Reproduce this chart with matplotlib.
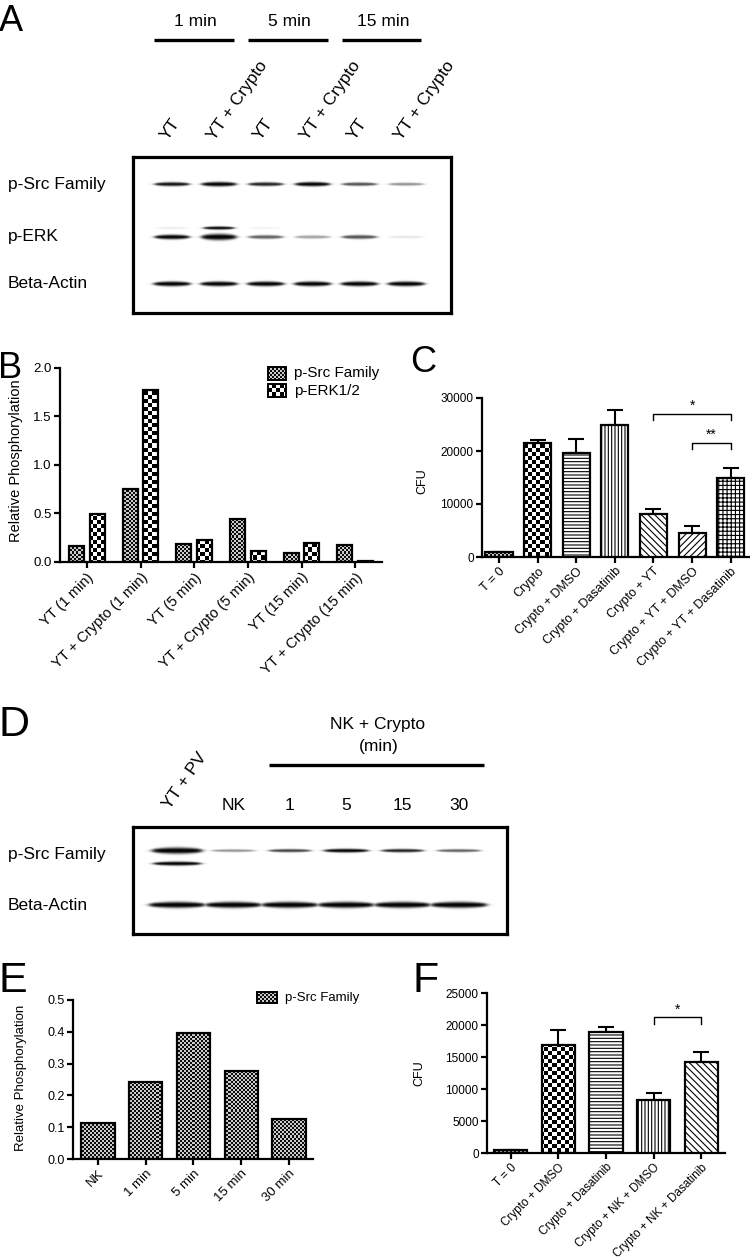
import numpy as np
import matplotlib
matplotlib.use("Agg")
import matplotlib.pyplot as plt
from matplotlib.patches import Rectangle
import matplotlib.transforms as mtrans

plt.rcParams['font.family'] = ['Liberation Sans', 'DejaVu Sans']
plt.rcParams['hatch.linewidth'] = 0.8

# ---------------- data ----------------
blotA_lanes = ["YT", "YT + Crypto", "YT", "YT + Crypto", "YT", "YT + Crypto"]
blotA_times = ["1 min", "5 min", "15 min"]
blotA_rows = ["p-Src Family", "p-ERK", "Beta-Actin"]
blotA_src = [0.75, 1.0, 0.7, 0.9, 0.55, 0.35]
blotA_erk = [0.8, 1.0, 0.5, 0.3, 0.55, 0.08]
blotA_erk_upper = [0.08, 0.85, 0.05, 0.0, 0.0, 0.0]
blotA_actin = [1.0, 1.0, 1.0, 1.0, 1.0, 1.0]

b_categories = ["YT (1 min)", "YT + Crypto (1 min)", "YT (5 min)",
                "YT + Crypto (5 min)", "YT (15 min)", "YT + Crypto (15 min)"]
b_series = ["p-Src Family", "p-ERK1/2"]
b_src = [0.165, 0.748, 0.183, 0.445, 0.09, 0.176]
b_erk = [0.493, 1.776, 0.231, 0.114, 0.197, 0.01]

c_categories = ["T = 0", "Crypto", "Crypto + DMSO", "Crypto + Dasatinib",
                "Crypto + YT", "Crypto + YT + DMSO", "Crypto + YT + Dasatinib"]
c_mean = [900, 21600, 19600, 24950, 8050, 4530, 14950]
c_sem = [100, 500, 2700, 2750, 1070, 1320, 1760]
c_sig = [(4, 6, "*", 27000), (5, 6, "**", 21500)]

blotD_lanes = ["YT + PV", "NK", "1", "5", "15", "30"]
blotD_header = ["NK + Crypto", "(min)"]
blotD_rows = ["p-Src Family", "Beta-Actin"]
blotD_src = [1.0, 0.35, 0.6, 0.85, 0.7, 0.5]
blotD_src_lower = [0.95, 0.0, 0.0, 0.0, 0.0, 0.0]
blotD_actin = [0.8, 0.8, 0.8, 0.8, 0.8, 0.8]

e_categories = ["NK", "1 min", "5 min", "15 min", "30 min"]
e_series = ["p-Src Family"]
e_src = [0.113, 0.242, 0.395, 0.277, 0.126]

f_categories = ["T = 0", "Crypto + DMSO", "Crypto + Dasatinib",
                "Crypto + NK + DMSO", "Crypto + NK + Dasatinib"]
f_mean = [400, 16900, 18950, 8260, 14230]
f_sem = [0, 2250, 780, 1150, 1570]
f_sig = [(3, 4, "*", 21200)]

# ---------------- styles ----------------
c_styles = ['stipple', 'checker', '-----', '|||||', '\\\\\\\\\\', '/////', '++++']
f_styles = ['stipple', 'checker', '-----', '|||||', '\\\\\\\\\\']

W, H = 750, 1258
DPI = 100
fig = plt.figure(figsize=(W / DPI, H / DPI), dpi=DPI)
PX = mtrans.Affine2D().scale(1 / W, -1 / H).translate(0, 1) + fig.transFigure


def add_ax(x0, y0, x1, y1):
    ax = fig.add_axes([x0 / W, 1 - y1 / H, (x1 - x0) / W, (y1 - y0) / H])
    ax._px = (x0, y0, x1, y1)
    return ax


def ftext(x, y, s, **kw):
    return fig.text(x / W, 1 - y / H, s, **kw)


def pattern(kind, h, w, x0, y0):
    yy, xx = np.mgrid[0:h, 0:w]
    yy = yy + y0
    xx = xx + x0
    if kind == 'stipple':
        c = ((xx // 2 + yy // 2) % 2)
        return np.where(c == 0, 0.05, 0.8)
    c = ((xx // 4 + yy // 4) % 2)
    return np.where(c == 0, 0.0, 1.0)


def texture(ax, patch, kind, pad=40):
    x0, y0, x1, y1 = ax._px
    xl = ax.get_xlim()
    yl = ax.get_ylim()
    w = x1 - x0
    h = y1 - y0
    sx = (xl[1] - xl[0]) / w
    sy = (yl[1] - yl[0]) / h
    nr, nc = h + 2 * pad, w + 2 * pad
    img = pattern(kind, nr, nc, x0 - pad, y0 - pad)
    left = xl[0] - pad * sx
    top = yl[1] + pad * sy
    ext = (left, left + nc * sx, top - nr * sy, top)
    im = ax.imshow(img, extent=ext, origin='upper', cmap='gray', vmin=0, vmax=1,
                   interpolation='nearest', aspect='auto', zorder=2)
    im.set_clip_path(patch)
    ax.set_xlim(xl)
    ax.set_ylim(yl)


def style(ax, fs):
    for s in ['top', 'right']:
        ax.spines[s].set_visible(False)
    for s in ['left', 'bottom']:
        ax.spines[s].set_linewidth(1.6)
    ax.tick_params(direction='out', length=4, width=1.6, labelsize=fs, pad=2)


def styled_bars(ax, x, vals, width, styles):
    bc = ax.bar(x, vals, width, color='white', edgecolor='black', linewidth=1.6, zorder=3)
    for p, st in zip(bc.patches, styles):
        if st in ('stipple', 'checker'):
            p.set_facecolor('none')
            texture(ax, p, st)
        else:
            p.set_hatch(st)
    return bc


def legend_box(ax, x0, y0, x1, y1, kind, label, fs):
    r = Rectangle((x0 / W, 1 - y1 / H), (x1 - x0) / W, (y1 - y0) / H,
                  transform=fig.transFigure, facecolor='none', edgecolor='black',
                  linewidth=1.4, zorder=4, clip_on=False)
    ax.add_artist(r)
    texture(ax, r, kind)
    ftext(x1 + 8, (y0 + y1) / 2, label, fontsize=fs, va='center', ha='left')


def blot(ax, rows, xlim, hpx, wpx):
    nc, nr = wpx * 2, hpx * 2
    xs = np.linspace(xlim[0], xlim[1], nc)
    ys = np.linspace(0, hpx, nr)
    X, Y = np.meshgrid(xs, ys)
    D = np.zeros_like(X)
    for yc, thick, inten, halfw in rows:
        for i, a in enumerate(inten):
            if a <= 0:
                continue
            hw = halfw[i] if np.ndim(halfw) else halfw
            th = thick[i] if np.ndim(thick) else thick
            dx = np.abs(X - i)
            hprof = 1 / (1 + np.exp((dx - hw) / 0.035))
            t = th * (0.55 + 0.6 * a) * np.clip(1 - 0.45 * (dx / hw) ** 2, 0.3, 1)
            vprof = np.exp(-np.abs((Y - yc) / (t / 2)) ** 2.5)
            D = np.maximum(D, min(1.0, 1.25 * a) * hprof * vprof)
    ax.imshow(D, extent=(xlim[0], xlim[1], hpx, 0), cmap='gray_r', vmin=0, vmax=1,
              aspect='auto', interpolation='bilinear')
    ax.set_xlim(xlim)
    ax.set_ylim(hpx, 0)
    ax.set_xticks([])
    ax.set_yticks([])
    for s in ax.spines.values():
        s.set_linewidth(2.3)


# ---------------- Panel A ----------------
ftext(-1, 31, "A", fontsize=26, va='baseline', ha='left')
axA = add_ax(133, 157, 451, 313)
xlA = (-0.83, 5.95)
blot(axA, [(27, 4.0, blotA_src, 0.37),
           (80, [4.5, 5.5, 4.5, 4.5, 4.5, 4.5], blotA_erk, 0.37),
           (71, 3.0, blotA_erk_upper, 0.33),
           (127, 4.2, blotA_actin, 0.39)], xlA, 156, 318)
trA = mtrans.blended_transform_factory(axA.transData, PX)
for k, t in enumerate(blotA_times):
    axA.plot([2 * k - 0.38, 2 * k + 1.32], [40, 40], transform=trA, color='black',
             lw=2.4, clip_on=False, solid_capstyle='butt')
    axA.text(2 * k + 0.5, 21, t, transform=trA, ha='center', va='center', fontsize=12.5)
for i, lab in enumerate(blotA_lanes):
    axA.text(i - 0.1, 141, lab, transform=trA, rotation=55, rotation_mode='anchor',
             ha='left', va='baseline', fontsize=12.5)
for lab, yr in zip(blotA_rows, [27, 80, 127]):
    ftext(8, 157 + yr, lab, fontsize=12.5, va='center', ha='left')
axA.set_xlim(xlA)
axA.set_ylim(156, 0)

# ---------------- Panel B ----------------
ftext(-2, 378, "B", fontsize=26, va='baseline', ha='left')
axB = add_ax(60, 368, 382, 562)
axB.set_xlim(-0.5, 5.5)
axB.set_ylim(0, 2.0)
xB = np.arange(len(b_categories))
styled_bars(axB, xB - 0.19, b_src, 0.28, ['stipple'] * 6)
styled_bars(axB, xB + 0.19, b_erk, 0.28, ['checker'] * 6)
style(axB, 9.5)
axB.set_yticks([0, 0.5, 1.0, 1.5, 2.0])
axB.set_yticklabels(["0.0", "0.5", "1.0", "1.5", "2.0"])
axB.set_xticks(xB)
axB.set_xticklabels(b_categories, rotation=45, ha='right', va='top',
                    rotation_mode='anchor', fontsize=10.5)
axB.set_ylabel("Relative Phosphorylation", fontsize=10.5)
axB.yaxis.set_label_coords(-0.115, 0.52)
legend_box(axB, 268, 367, 286, 380, 'stipple', b_series[0], 11)
legend_box(axB, 268, 384, 286, 397, 'checker', b_series[1], 11)
axB.set_xlim(-0.5, 5.5)
axB.set_ylim(0, 2.0)

# ---------------- Panel C ----------------
ftext(410, 372, "C", fontsize=26, va='baseline', ha='left')
axC = add_ax(482, 398, 750, 557)
axC.set_xlim(-0.44, 6.5)
axC.set_ylim(0, 30000)
xC = np.arange(len(c_categories))
axC.errorbar(xC, c_mean, yerr=[np.zeros(len(c_sem)), c_sem], fmt='none',
             ecolor='black', elinewidth=1.5, capsize=5.5, capthick=1.5, zorder=2.5)
styled_bars(axC, xC, c_mean, 0.7, c_styles)
style(axC, 8.5)
axC.set_yticks([0, 10000, 20000, 30000])
axC.set_xticks(xC)
axC.set_xticklabels(c_categories, rotation=45, ha='right', va='top',
                    rotation_mode='anchor', fontsize=9)
axC.set_ylabel("CFU", fontsize=9)
axC.yaxis.set_label_coords(-0.2, 0.48)
for a, b, s, y in c_sig:
    axC.plot([a, a, b, b], [y - 1150, y, y, y - 1150], color='black', lw=1.0, clip_on=False)
    axC.text((a + b) / 2, y + 150, s, ha='center', va='bottom', fontsize=10)
axC.set_xlim(-0.44, 6.5)
axC.set_ylim(0, 30000)

# ---------------- Panel D ----------------
ftext(-2, 736, "D", fontsize=31, va='baseline', ha='left')
axD = add_ax(133, 827, 507, 934)
xlD = (-0.78, 5.85)
blot(axD, [(23.5, [5.5, 3.6, 3.6, 3.6, 3.6, 3.6], blotD_src,
            [0.44, 0.38, 0.37, 0.39, 0.37, 0.38]),
           (36.5, 3.6, blotD_src_lower, 0.42),
           (78, 6.0, blotD_actin, 0.49)], xlD, 107, 374)
trD = mtrans.blended_transform_factory(axD.transData, PX)
axD.plot([1.63, 5.44], [765, 765], transform=trD, color='black', lw=2.4,
         clip_on=False, solid_capstyle='butt')
axD.text(3.55, 725, blotD_header[0], transform=trD, ha='center', va='center',
         fontsize=12.5)
axD.text(3.57, 747, blotD_header[1], transform=trD, ha='center', va='center',
         fontsize=12.5)
axD.text(-0.12, 810, blotD_lanes[0], transform=trD, rotation=55, rotation_mode='anchor',
         ha='left', va='baseline', fontsize=12.5)
for i, lab in enumerate(blotD_lanes[1:], start=1):
    axD.text(i, 805, lab, transform=trD, ha='center', va='center', fontsize=12.5)
for lab, yr in zip(blotD_rows, [28, 79]):
    ftext(8, 827 + yr, lab, fontsize=12.5, va='center', ha='left')
axD.set_xlim(xlD)
axD.set_ylim(107, 0)

# ---------------- Panel E ----------------
ftext(-1, 992, "E", fontsize=31, va='baseline', ha='left')
axE = add_ax(73, 1000, 313, 1159)
axE.set_xlim(-0.52, 4.5)
axE.set_ylim(0, 0.5)
xE = np.arange(len(e_categories))
styled_bars(axE, xE, e_src, 0.7, ['stipple'] * 5)
style(axE, 9)
axE.set_yticks([0, 0.1, 0.2, 0.3, 0.4, 0.5])
axE.set_yticklabels(["0.0", "0.1", "0.2", "0.3", "0.4", "0.5"])
axE.set_xticks(xE)
axE.set_xticklabels(e_categories, rotation=45, ha='right', va='top',
                    rotation_mode='anchor', fontsize=9.5)
axE.set_ylabel("Relative Phosphorylation", fontsize=9.5)
axE.yaxis.set_label_coords(-0.19, 0.51)
legend_box(axE, 257, 992, 277, 1003, 'stipple', e_series[0], 9.5)
axE.set_xlim(-0.52, 4.5)
axE.set_ylim(0, 0.5)

# ---------------- Panel F ----------------
ftext(413, 992, "F", fontsize=31, va='baseline', ha='left')
axF = add_ax(487, 993, 725, 1153)
axF.set_xlim(-0.5, 4.5)
axF.set_ylim(0, 25000)
xF = np.arange(len(f_categories))
axF.errorbar(xF, f_mean, yerr=[np.zeros(len(f_sem)), f_sem], fmt='none',
             ecolor='black', elinewidth=1.5, capsize=6, capthick=1.5, zorder=2.5)
styled_bars(axF, xF, f_mean, 0.7, f_styles)
style(axF, 8.5)
axF.set_yticks([0, 5000, 10000, 15000, 20000, 25000])
axF.set_xticks(xF)
axF.set_xticklabels(f_categories, rotation=45, ha='right', va='top',
                    rotation_mode='anchor', fontsize=8.5)
axF.set_ylabel("CFU", fontsize=9)
axF.yaxis.set_label_coords(-0.26, 0.5)
for a, b, s, y in f_sig:
    axF.plot([a, a, b, b], [y - 1050, y, y, y - 1050], color='black', lw=1.0, clip_on=False)
    axF.text((a + b) / 2, y + 150, s, ha='center', va='bottom', fontsize=10)
axF.set_xlim(-0.5, 4.5)
axF.set_ylim(0, 25000)

fig.savefig("out.png", dpi=DPI)
